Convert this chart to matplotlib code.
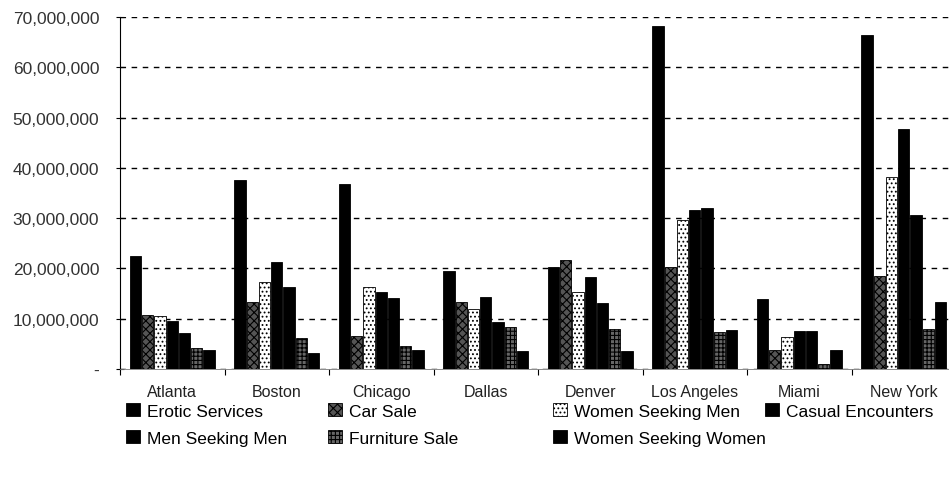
import numpy as np
import matplotlib
matplotlib.use('Agg')
import matplotlib.pyplot as plt
from matplotlib.patches import Patch
from matplotlib.ticker import FuncFormatter

plt.rcParams['font.family'] = ['Liberation Sans', 'DejaVu Sans']
plt.rcParams['hatch.linewidth'] = 0.8

cities = ['Atlanta', 'Boston', 'Chicago', 'Dallas', 'Denver', 'Los Angeles', 'Miami', 'New York']
series = ['Erotic Services', 'Car Sale', 'Women Seeking Men', 'Casual Encounters',
          'Men Seeking Men', 'Furniture Sale', 'Women Seeking Women']

# values in millions
erotic_services = [22.5, 37.5, 36.8, 19.5, 20.2, 68.2, 13.9, 66.4]
car_sale = [10.8, 13.3, 6.5, 13.3, 21.6, 20.3, 3.8, 18.5]
women_seeking_men = [10.5, 17.3, 16.3, 12.0, 15.3, 29.7, 6.4, 38.1]
casual_encounters = [9.6, 21.3, 15.4, 14.3, 18.3, 31.7, 7.6, 47.7]
men_seeking_men = [7.2, 16.4, 14.1, 9.4, 13.1, 32.1, 7.6, 30.6]
furniture_sale = [4.2, 6.2, 4.6, 8.4, 8.0, 7.4, 1.0, 8.0]
women_seeking_women = [3.8, 3.1, 3.8, 3.6, 3.5, 7.7, 3.8, 13.3]

values = [erotic_services, car_sale, women_seeking_men, casual_encounters,
          men_seeking_men, furniture_sale, women_seeking_women]

# fill / hatch per series (scanned grayscale look)
styles = [
    dict(facecolor='black', hatch=None),
    dict(facecolor='#555555', hatch='xxxx'),
    dict(facecolor='white', hatch='....'),
    dict(facecolor='black', hatch=None),
    dict(facecolor='black', hatch=None),
    dict(facecolor='#666666', hatch='++++'),
    dict(facecolor='black', hatch=None),
]

fig = plt.figure(figsize=(9.49, 4.85), dpi=100)
ax = fig.add_axes([120 / 949, 1 - 370 / 485, 836 / 949, 352 / 485])

x = np.arange(len(cities))
w = 0.117
for i, (name, vals) in enumerate(zip(series, values)):
    offs = (i - 3) * w
    ax.bar(x + offs, np.array(vals) * 1e6, width=w * 0.92, edgecolor='black',
           linewidth=0.6, zorder=3, **styles[i])

ax.set_xlim(-0.5, len(cities) - 0.5)
ax.set_ylim(0, 70e6)
ax.set_yticks(np.arange(0, 70e6 + 1, 10e6))
ax.yaxis.set_major_formatter(FuncFormatter(lambda v, p: '-' if v == 0 else f'{int(v):,}'))
ax.yaxis.grid(True, color='black', linestyle=(0, (4, 4)), linewidth=1.0, zorder=0)
ax.set_xticks(x)
ax.set_xticklabels(cities, fontsize=11.5, color='#222222')
ax.set_xticks(np.arange(-0.5, len(cities), 1), minor=True)
ax.tick_params(axis='x', which='major', length=0, pad=11)
ax.tick_params(axis='x', which='minor', length=4, direction='out', width=0.8)
ax.tick_params(axis='y', length=6, direction='inout', width=0.8, labelsize=12.5,
               labelcolor='#333333', pad=12)

for side in ['top', 'right']:
    ax.spines[side].set_visible(False)
ax.spines['left'].set_linestyle((0, (3, 1)))
ax.spines['left'].set_linewidth(0.8)
ax.spines['bottom'].set_linewidth(0.6)
ax.spines['bottom'].set_color('#777777')

# legend: four columns placed like the original
handles = [Patch(edgecolor='black', linewidth=0.6, **s) for s in styles]
cols = [([0, 4], 0.133), ([1, 5], 0.346), ([2, 6], 0.583), ([3], 0.806)]
for idx, xpos in cols:
    fig.legend([handles[k] for k in idx], [series[k] for k in idx],
               loc='upper left', bbox_to_anchor=(xpos, 0.167), frameon=False,
               fontsize=12.5, handlelength=0.8, handleheight=0.8, handletextpad=0.4,
               labelspacing=0.65, borderaxespad=0, borderpad=0)

fig.savefig('out.png', dpi=100)
